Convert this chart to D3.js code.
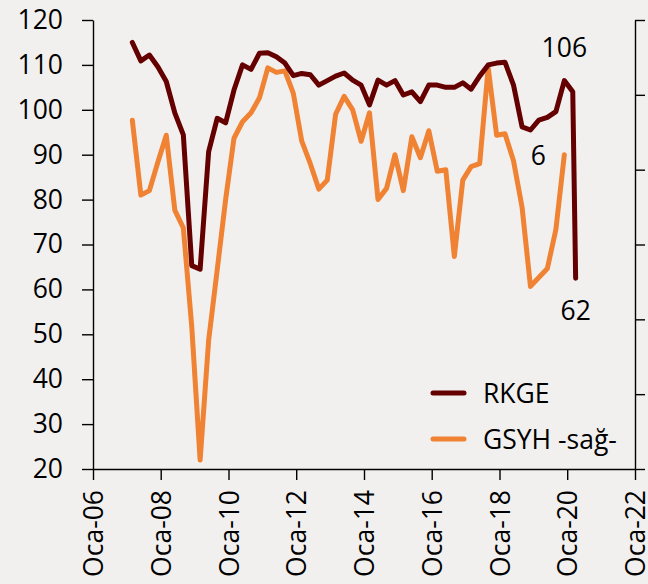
<!DOCTYPE html>
<html>
<head>
<meta charset="utf-8">
<script src="https://cdn.jsdelivr.net/npm/d3@7"></script>
<style>
    html, body { margin: 0; padding: 0; background: #f2f0ef; }
    svg { display: block; font-family: "Open Sans", sans-serif; }
</style>
</head>
<body>
<svg id="chart" width="648" height="584"></svg>
<script>

// Data (quarterly, dated at the quarter's last month)

const quarterStart = "2007-03";
const rkgeValues = [115.0, 110.9, 112.2, 109.6, 106.3, 99.3, 94.4, 65.3, 64.5, 90.7,
    98.1, 97.1, 104.4, 110.0, 109.0, 112.6, 112.7, 111.8, 110.4, 107.6,
    108.1, 107.8, 105.5, 106.5, 107.5, 108.2, 106.6, 105.5, 101.1, 106.6,
    105.5, 106.5, 103.3, 104.0, 101.8, 105.5, 105.5, 105.0, 105.0, 106.0,
    104.6, 107.5, 110.0, 110.4, 110.6, 105.5, 96.2, 95.5, 97.7, 98.3,
    99.6, 106.5, 104.0];
// the last RKGE reading is monthly (Nisan 2020)
const rkgeLast = { date: "2020-04", value: 62.5 };

const gsyhValues = [8.3, 3.3, 3.6, 5.5, 7.3, 2.3, 1.1, -5.5, -14.4, -6.4,
    -1.7, 3.0, 7.1, 8.2, 8.8, 9.8, 11.8, 11.5, 11.6, 10.1,
    6.9, 5.4, 3.7, 4.3, 8.7, 9.9, 9.0, 6.9, 8.8, 3.0,
    3.75, 6.0, 3.6, 7.2, 5.8, 7.6, 4.9, 5.0, -0.8, 4.3,
    5.2, 5.4, 11.8, 7.3, 7.4, 5.6, 2.5, -2.8, -2.2, -1.6,
    1.0, 6.0];

const leftTicks = [20, 30, 40, 50, 60, 70, 80, 90, 100, 110, 120];
const rightTicks = [-15, -10, -5, 0, 5, 10, 15];
const xTickYears = [2006, 2008, 2010, 2012, 2014, 2016, 2018, 2020, 2022];

const seriesNames = ["RKGE", "GSYH -sağ-"];
const seriesColors = ["#650000", "#f08233"];

// Point labels
const labels = [
    { text: "106", series: 0, index: 51, dx: 0, dy: -24 },
    { text: "6", series: 1, index: 51, dx: -26, dy: 10 },
    { text: "62", series: 0, index: 53, dx: 0, dy: 42 }
];

//
// Build the series
//

const parseMonth = d3.timeParse("%Y-%m");
const firstQuarter = parseMonth(quarterStart);
const quarterDate = i => d3.timeMonth.offset(firstQuarter, 3 * i);

const rkge = rkgeValues.map((v, i) => ({ date: quarterDate(i), value: v }));
rkge.push({ date: parseMonth(rkgeLast.date), value: rkgeLast.value });
const gsyh = gsyhValues.map((v, i) => ({ date: quarterDate(i), value: v }));

//
// Scales
//

const plotLeft = 93, plotRight = 635, plotTop = 20, plotBottom = 469;
const fontSize = 26.5;

const x = d3.scaleTime()
    .domain([new Date(2006, 0, 1), new Date(2022, 0, 1)])
    .range([plotLeft, plotRight]);

const yLeft = d3.scaleLinear()
    .domain([20, 120])
    .range([plotBottom, plotTop]);

const yRight = d3.scaleLinear()
    .domain([-15, 15])
    .range([plotBottom, plotTop]);

const svg = d3.select("#chart");

svg.append("rect")
    .attr("width", 648)
    .attr("height", 584)
    .attr("fill", "#f2f0ef");

//
// Axes
//

const styleAxis = g => {
    g.selectAll(".domain").attr("stroke", "#000").attr("stroke-width", 1.4);
    g.selectAll(".tick line").attr("stroke", "#000").attr("stroke-width", 1.4);
    g.selectAll(".tick text").attr("fill", "#000").style("font-size", fontSize + "px")
        .style("font-family", "'Open Sans', sans-serif");
};

svg.append("g")
    .attr("transform", `translate(${plotLeft},0)`)
    .call(d3.axisLeft(yLeft).tickValues(leftTicks).tickSize(11).tickSizeOuter(0).tickPadding(19))
    .call(styleAxis);

svg.append("g")
    .attr("transform", `translate(${plotRight},0)`)
    .call(d3.axisRight(yRight).tickValues(rightTicks).tickSize(10).tickSizeOuter(0).tickFormat(() => ""))
    .call(styleAxis);

const xAxis = svg.append("g")
    .attr("transform", `translate(0,${plotBottom})`)
    .call(d3.axisBottom(x)
        .tickValues(xTickYears.map(y => new Date(y, 0, 1)))
        .tickSize(11)
        .tickSizeOuter(0)
        .tickFormat(d3.timeFormat("Oca-%y")))
    .call(styleAxis);

// Rotated year labels
xAxis.selectAll(".tick text")
    .attr("text-anchor", "end")
    .attr("transform", "rotate(-90)")
    .attr("x", -21)
    .attr("y", 0)
    .attr("dy", "0.36em");

//
// Lines
//

const line = yScale => d3.line()
    .x(d => x(d.date))
    .y(d => yScale(d.value));

svg.append("path")
    .datum(gsyh)
    .attr("d", line(yRight))
    .attr("fill", "none")
    .attr("stroke", seriesColors[1])
    .attr("stroke-width", 5)
    .attr("stroke-linejoin", "round")
    .attr("stroke-linecap", "round");

svg.append("path")
    .datum(rkge)
    .attr("d", line(yLeft))
    .attr("fill", "none")
    .attr("stroke", seriesColors[0])
    .attr("stroke-width", 5)
    .attr("stroke-linejoin", "round")
    .attr("stroke-linecap", "round");

//
// Point labels
//

labels.forEach(l => {
    const d = l.series === 0 ? rkge[l.index] : gsyh[l.index];
    const yScale = l.series === 0 ? yLeft : yRight;
    svg.append("text")
        .attr("x", x(d.date) + l.dx)
        .attr("y", yScale(d.value) + l.dy)
        .attr("text-anchor", "middle")
        .style("font-size", fontSize + "px")
        .attr("fill", "#000")
        .text(l.text);
});

//
// Legend
//

const legend = svg.append("g")
    .attr("transform", "translate(433,393)");

legend.selectAll("g")
    .data(seriesNames)
    .join("g")
        .attr("transform", (d, i) => `translate(0,${i * 46})`)
        .call(g => g.append("line")
            .attr("x1", 0)
            .attr("x2", 31)
            .attr("stroke", (d, i) => seriesColors[i])
            .attr("stroke-width", 5)
            .attr("stroke-linecap", "round"))
        .call(g => g.append("text")
            .attr("x", 50)
            .attr("dy", "0.36em")
            .style("font-size", fontSize + "px")
            .attr("fill", "#000")
            .text(d => d));

</script>
</body>
</html>
